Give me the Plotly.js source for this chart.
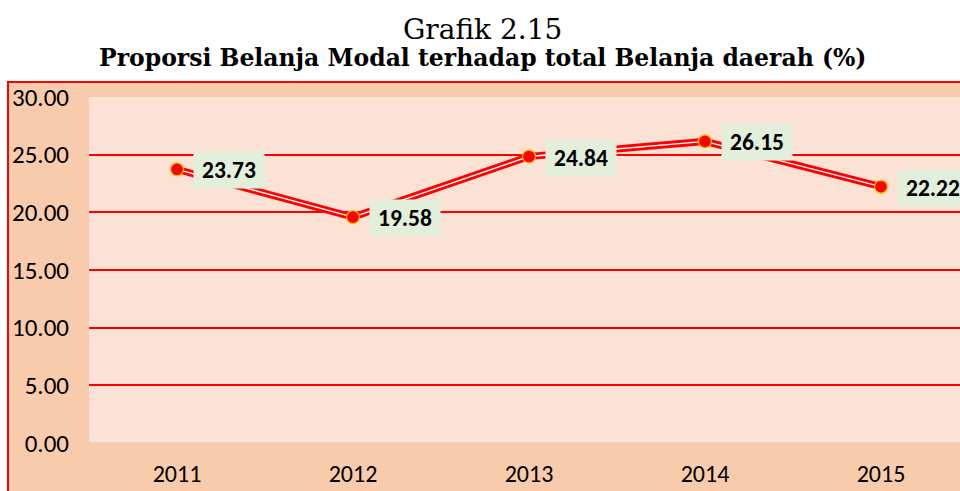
<!DOCTYPE html>
<html>
<head>
<meta charset="utf-8">
<script src="https://cdn.plot.ly/plotly-3.0.1.min.js"></script>
<style>html,body{margin:0;padding:0;background:#fff;}#chart{width:960px;height:491px;}</style>
</head>
<body>
<div id="chart"></div>
<script>
const years = ['2011', '2012', '2013', '2014', '2015'];
const proporsi = [23.73, 19.58, 24.84, 26.15, 22.22];
const yTicks = [0, 5, 10, 15, 20, 25, 30];
const titleLine1 = 'Grafik 2.15';
const titleLine2 = 'Proporsi Belanja Modal terhadap total Belanja daerah (%)';

const labels = proporsi.map(v => v.toFixed(2));
const idx = years.map((_, i) => i);

const traces = [
  {
    x: idx, y: proporsi, type: 'scatter', mode: 'lines',
    line: {color: '#FF0000', width: 7}, hoverinfo: 'skip', showlegend: false
  },
  {
    x: idx, y: proporsi, type: 'scatter', mode: 'lines+markers',
    line: {color: '#FFFFFF', width: 1.3},
    marker: {size: 13, color: '#FF0000', line: {color: '#FFC000', width: 1.3}},
    showlegend: false
  }
];

const sans = 'Carlito, Lato, "Open Sans", sans-serif';
const serif = '"DejaVu Serif", "Liberation Serif", serif';

const annotations = idx.map(i => ({
  x: i, y: proporsi[i], xref: 'x', yref: 'y',
  text: '<b>' + labels[i] + '</b>', showarrow: false,
  xanchor: 'left', yanchor: 'middle', xshift: 16, yshift: -1,
  width: 64, height: 30, align: 'center', valign: 'middle',
  bgcolor: '#E2EFDA', borderpad: 3,
  font: {family: sans, size: 23.5, color: '#000000'}
}));

annotations.push(
  {xref: 'paper', yref: 'paper', x: 0.452, y: 1.194, xanchor: 'center', yanchor: 'middle',
   text: titleLine1, showarrow: false,
   font: {family: serif, size: 28, color: '#000000'}},
  {xref: 'paper', yref: 'paper', x: 0.452, y: 1.113, xanchor: 'center', yanchor: 'middle',
   text: '<b>' + titleLine2 + '</b>', showarrow: false,
   font: {family: serif, size: 23.5, color: '#000000'}}
);

const layout = {
  width: 960, height: 491,
  margin: {l: 89, r: 0, t: 97, b: 48},
  paper_bgcolor: '#FFFFFF',
  plot_bgcolor: '#FBE2D4',
  xaxis: {
    range: [-0.5, 4.449], tickvals: idx, ticktext: years,
    showgrid: false, zeroline: false, showline: false, ticks: '',
    tickfont: {family: sans, size: 24, color: '#000000'},
    ticklabelstandoff: 14
  },
  yaxis: {
    range: [0, 30], tickvals: yTicks, tickformat: '.2f',
    showgrid: true, gridcolor: '#FF0000', gridwidth: 2,
    zeroline: false, showline: false, ticks: '',
    tickfont: {family: sans, size: 25, color: '#000000'},
    ticklabelstandoff: 19
  },
  shapes: [
    {type: 'rect', xref: 'paper', yref: 'paper', x0: -0.093, x1: 1.05, y0: -0.2, y1: 1.0434,
     fillcolor: '#F8CBAD', line: {color: '#FF0000', width: 2}, layer: 'below'},
    {type: 'rect', xref: 'paper', yref: 'paper', x0: 0, x1: 1, y0: 0, y1: 1,
     fillcolor: '#FBE2D4', line: {width: 0}, layer: 'below'},
    {type: 'line', xref: 'paper', yref: 'y', x0: 0, x1: 1, y0: 0, y1: 0,
     line: {color: '#D9D9D9', width: 2}, layer: 'below'}
  ],
  annotations: annotations
};

Plotly.newPlot('chart', traces, layout, {displayModeBar: false, staticPlot: true});
</script>
</body>
</html>
